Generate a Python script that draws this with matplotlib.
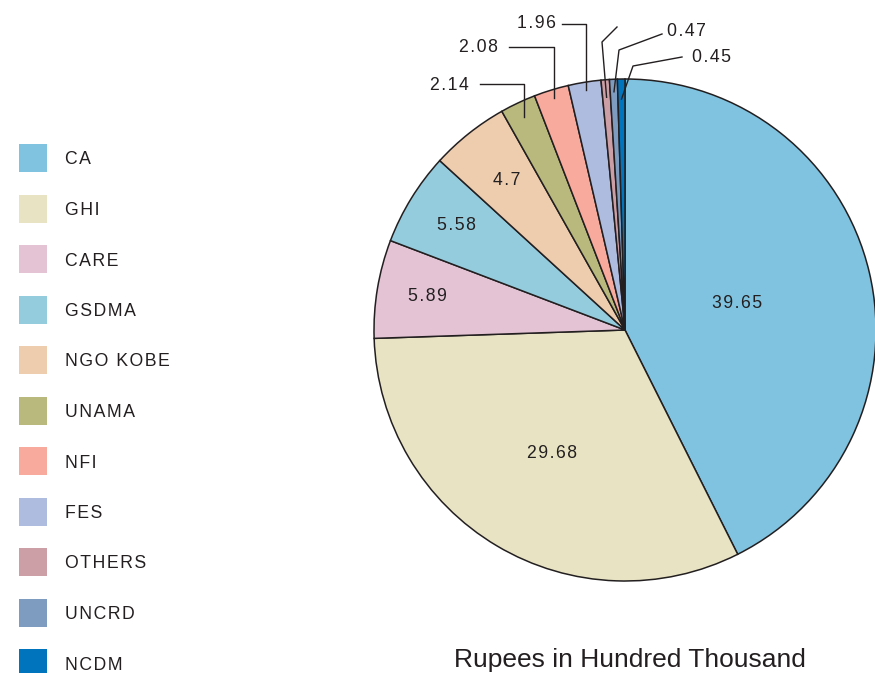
import numpy as np
import matplotlib
matplotlib.use('Agg')
import matplotlib.pyplot as plt
from matplotlib.patches import Rectangle

plt.rcParams['font.family'] = ['Liberation Sans', 'DejaVu Sans']

# data
names = ['CA', 'GHI', 'CARE', 'GSDMA', 'NGO KOBE', 'UNAMA', 'NFI', 'FES', 'OTHERS', 'UNCRD', 'NCDM']
values = [39.65, 29.68, 5.89, 5.58, 4.7, 2.14, 2.08, 1.96, 0.5, 0.47, 0.45]
labels = ['39.65', '29.68', '5.89', '5.58', '4.7', '2.14', '2.08', '1.96', '', '0.47', '0.45']
colors = ['#80C3E0', '#E8E4C3', '#E3C3D4', '#95CCDD', '#EECDAF', '#B9B97E',
          '#F8AA9D', '#ADBCDF', '#CC9EA6', '#7E9BC0', '#0075BE']

W, H = 875, 673
TXT = '#231F20'
FS = 12.7

fig = plt.figure(figsize=(W / 100, H / 100), dpi=100)
ax = fig.add_axes([0, 0, 1, 1])

def py(y):
    # pixel row -> data y
    return H - y

def spaced(s):
    # loose letter spacing like the original
    return '\u200a'.join(s)

cx, cy, R = 625, py(330), 251
wedges, _ = ax.pie(values, colors=colors, startangle=90, counterclock=False,
                   center=(cx, cy), radius=R, frame=True,
                   wedgeprops=dict(edgecolor='#231F20', linewidth=1.1))
ax.set_xlim(0, W)
ax.set_ylim(0, H)
ax.set_aspect('equal')
ax.axis('off')

def mid_point(w, r):
    a = np.deg2rad((w.theta1 + w.theta2) / 2)
    return cx + r * R * np.cos(a), cy + r * R * np.sin(a)

# labels inside the big slices
inner_r = [0.46, 0.57, 0.80, 0.79, 0.76]
for w, lab, r in zip(wedges[:5], labels[:5], inner_r):
    x, y = mid_point(w, r)
    ax.text(x, y, spaced(lab), ha='center', va='center', fontsize=FS, color=TXT)

# leader-line labels for small slices
lead_r = [0.94, 0.965, 0.97, 0.93, 0.95, 0.92]
text_pos = [(449, 85), (478, 47), (536, 23), None, (686, 31), (711, 57)]
line_start = [(480, 84), (509, 47), (562, 24), (617, 27), (662, 34), (682, 57)]
elbows = [None, None, None, (602, 42), (619, 50), (633, 66)]
for w, lab, r, tp, ls, el in zip(wedges[5:], labels[5:], lead_r, text_pos, line_start, elbows):
    x, y = mid_point(w, r)
    if el is None:
        xs = [ls[0], x, x]
        ys = [py(ls[1]), py(ls[1]), y]
    else:
        xs = [ls[0], el[0], x]
        ys = [py(ls[1]), py(el[1]), y]
    ax.plot(xs, ys, color='#231F20', linewidth=1.0)
    if tp is not None:
        ax.text(tp[0], py(tp[1]), spaced(lab), ha='center', va='center', fontsize=FS, color=TXT)

# legend
for i, (n, c) in enumerate(zip(names, colors)):
    yc = 158 + i * 50.5
    ax.add_patch(Rectangle((19, py(yc + 14)), 28, 28, facecolor=c, edgecolor='none'))
    ax.text(65, py(yc + 2), spaced(n), ha='left', va='center', fontsize=FS, color=TXT)

ax.text(630, py(660), 'Rupees in Hundred Thousand', ha='center', va='center',
        fontsize=19, color=TXT)

fig.savefig('out.png', dpi=100)
